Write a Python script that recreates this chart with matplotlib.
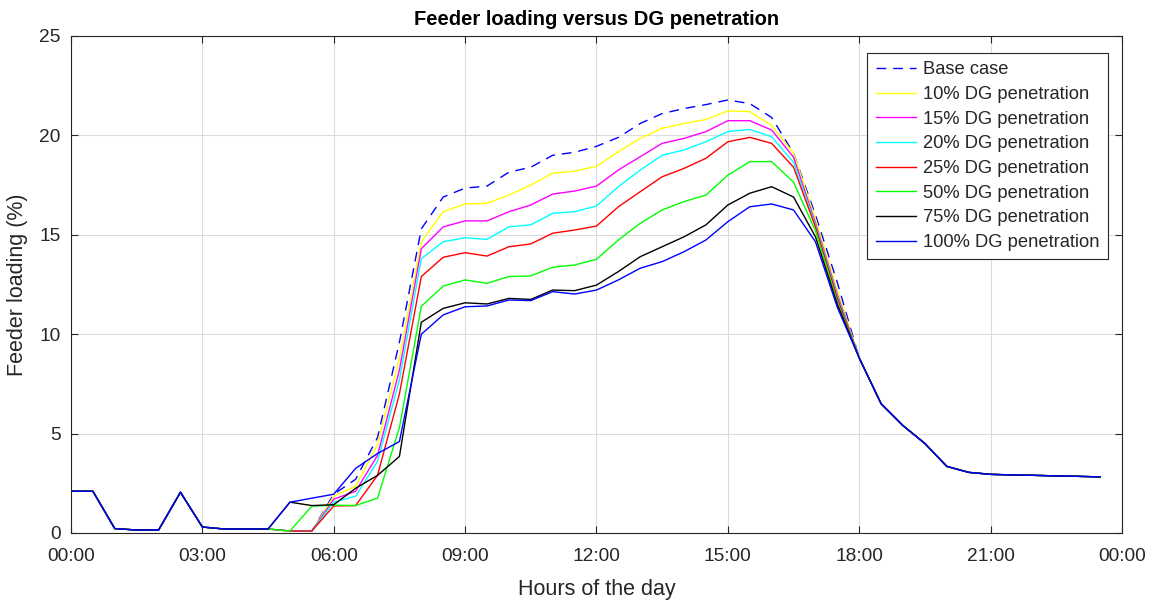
import numpy as np
import matplotlib
matplotlib.use("Agg")
import matplotlib.pyplot as plt
from matplotlib.ticker import FuncFormatter, MultipleLocator

plt.rcParams['font.family'] = ['Liberation Sans', 'DejaVu Sans']

# half-hour steps over the day
hours = np.arange(0, 24, 0.5)

# night values shared by every case (00:00-04:30 and 18:00-23:30)
night_am = [2.1, 2.1, 0.22, 0.15, 0.15, 2.05, 0.3, 0.2, 0.2, 0.2]
night_pm = [8.8, 6.5, 5.4, 4.5, 3.35, 3.05, 2.95, 2.92, 2.9, 2.87, 2.85, 2.82]

# daytime values 05:00-17:30
base_case = [0.1, 0.1, 1.95, 2.7, 4.8, 9.6, 15.3, 16.9, 17.35, 17.45, 18.15, 18.4, 19.0,
             19.15, 19.45, 19.9, 20.6, 21.1, 21.35, 21.55, 21.78, 21.6, 20.9, 19.1, 16.0, 12.6]
dg_10 = [0.1, 0.1, 1.85, 2.35, 4.45, 8.8, 14.65, 16.16, 16.55, 16.58, 17.0, 17.5, 18.1,
         18.2, 18.45, 19.18, 19.85, 20.36, 20.6, 20.8, 21.23, 21.2, 20.5, 19.1, 15.8, 12.2]
dg_15 = [0.1, 0.1, 1.7, 2.1, 3.9, 8.2, 14.3, 15.4, 15.7, 15.7, 16.16, 16.5, 17.05,
         17.2, 17.45, 18.26, 18.93, 19.6, 19.85, 20.19, 20.74, 20.74, 20.27, 18.9, 15.6, 12.0]
dg_20 = [0.1, 0.1, 1.55, 1.85, 3.6, 7.7, 13.8, 14.65, 14.85, 14.77, 15.4, 15.5, 16.08,
         16.16, 16.45, 17.42, 18.26, 19.0, 19.27, 19.68, 20.19, 20.3, 19.93, 18.65, 15.5, 11.9]
dg_25 = [0.1, 0.1, 1.36, 1.38, 2.9, 7.0, 12.9, 13.87, 14.1, 13.93, 14.4, 14.54, 15.08,
         15.24, 15.44, 16.41, 17.17, 17.92, 18.34, 18.85, 19.68, 19.9, 19.6, 18.4, 15.4, 11.8]
dg_50 = [0.1, 1.35, 1.4, 1.38, 1.75, 5.3, 11.4, 12.42, 12.73, 12.56, 12.9, 12.93, 13.37,
         13.48, 13.77, 14.74, 15.58, 16.25, 16.67, 17.0, 18.0, 18.68, 18.68, 17.65, 15.2, 11.6]
dg_75 = [1.55, 1.38, 1.42, 2.25, 2.9, 3.85, 10.6, 11.3, 11.58, 11.52, 11.8, 11.75, 12.22,
         12.19, 12.47, 13.15, 13.9, 14.4, 14.9, 15.5, 16.5, 17.09, 17.42, 16.9, 14.9, 11.5]
dg_100 = [1.55, 1.75, 1.95, 3.25, 4.0, 4.6, 10.0, 10.97, 11.38, 11.42, 11.72, 11.69, 12.14,
          12.02, 12.22, 12.73, 13.32, 13.65, 14.15, 14.74, 15.66, 16.41, 16.55, 16.25, 14.65, 11.35]

labels = ["Base case", "10% DG penetration", "15% DG penetration", "20% DG penetration",
          "25% DG penetration", "50% DG penetration", "75% DG penetration", "100% DG penetration"]
colors = ["#0000FF", "#FFFF00", "#FF00FF", "#00FFFF", "#FF0000", "#00FF00", "#000000", "#0000FF"]
series = [base_case, dg_10, dg_15, dg_20, dg_25, dg_50, dg_75, dg_100]

text_col = "#262626"

fig = plt.figure(figsize=(11.58, 6.03), dpi=100)
ax = fig.add_axes([0.0613, 0.1161, 0.9076, 0.8242])

for day, col, lab in zip(series, colors, labels):
    y = night_am + day + night_pm
    if lab == "Base case":
        ax.plot(hours, y, color=col, linewidth=1.0, linestyle=(0, (7, 5)), label=lab)
    else:
        ax.plot(hours, y, color=col, linewidth=1.0, label=lab)

ax.set_xlim(0, 24)
ax.set_ylim(0, 25)
ax.xaxis.set_major_locator(MultipleLocator(3))
ax.yaxis.set_major_locator(MultipleLocator(5))
ax.xaxis.set_major_formatter(FuncFormatter(lambda v, p: "%02d:00" % (int(round(v)) % 24)))

ax.grid(True, color="#dcdcdc", linewidth=0.8)
ax.set_axisbelow(True)
ax.tick_params(direction="in", length=5, width=0.8, top=True, right=True,
               labelsize=13.8, colors=text_col)
ax.tick_params(axis="x", pad=11)
ax.tick_params(axis="y", pad=7.5)
for s in ax.spines.values():
    s.set_color(text_col)
    s.set_linewidth(0.8)

ax.set_title("Feeder loading versus DG penetration", fontsize=14.5, fontweight="bold",
             color="#000000", pad=8)
ax.set_xlabel("Hours of the day", fontsize=15.5, color=text_col, labelpad=10)
ax.set_ylabel("Feeder loading (%)", fontsize=15.5, color=text_col, labelpad=8)

leg = ax.legend(loc="upper right", bbox_to_anchor=(0.9867, 0.9658), borderaxespad=0,
                fontsize=13.2, fancybox=False, framealpha=1, edgecolor="#262626",
                handlelength=2.2, handletextpad=0.4, labelspacing=0.42, borderpad=0.45)
leg.get_frame().set_linewidth(0.8)
for t in leg.get_texts():
    t.set_color(text_col)

fig.savefig("out.png", dpi=100)
plt.close(fig)
